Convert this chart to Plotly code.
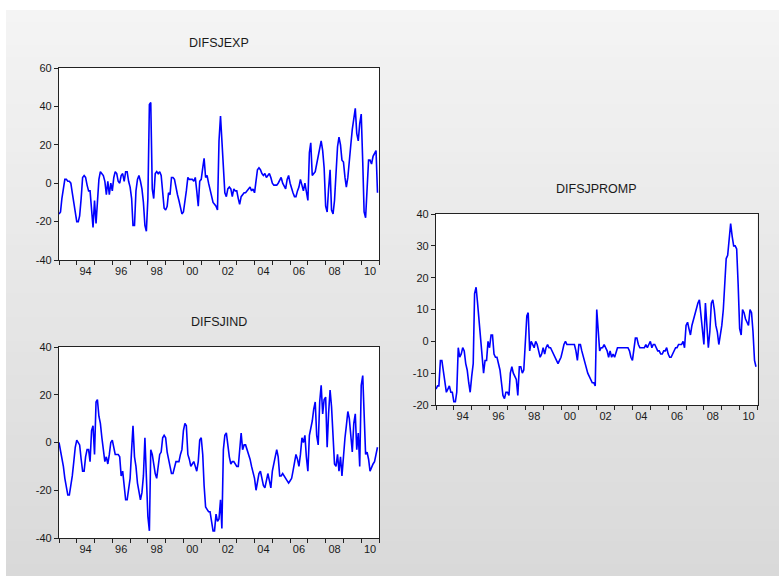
import pandas as pd
import plotly.graph_objects as go

# ---------------- data (monthly, 1993M01 - 2010M12) ----------------
dates = pd.date_range("1993-01-01", "2010-12-01", freq="MS")

difsjexp = [
    -16, -15, -8, -2, 2, 2, 1, 1, 0, -5, -11, -17,        # 1993
    -20, -20, -17, -8, 3, 4, 3, -1, -4, -4, -15, -23,     # 1994
    -9, -21, -10, 2, 6, 5, 4, 1, -6, 1, -6, 0,            # 1995
    -4, 3, 6, 5, 1, 0, 4, 5, 1, 6, 6, 1,                  # 1996
    -2, -8, -22, -22, -4, 2, 4, 1, -3, -10, -22, -25,     # 1997
    -8, 41, 42, -3, -8, 5, 6, 5, 6, 4, -5, -13,           # 1998
    -14, -12, -5, -6, 3, 3, 2, -3, -6, -9, -13, -16,      # 1999
    -15, -10, -4, 3, 2, 2, 2, 1, 3, -4, -12, 1,           # 2000
    2, 8, 13, 3, 4, 0, -3, -6, -10, -11, -12, -14,        # 2001
    22, 35, 22, 8, -5, -7, -3, -2, -3, -7, -3, -4,        # 2002
    -4, -8, -11, -7, -6, -5, -5, -4, -3, -2, -4, -3,      # 2003
    -5, 1, 7, 8, 7, 5, 4, 5, 3, 4, 5, 3,                  # 2004
    0, -1, -1, -1, 0, 2, 3, 0, -2, -3, 2, 4,              # 2005
    0, -3, -5, -7, -7, -4, -2, 2, -1, -4, 0, -5,          # 2006
    -9, 16, 21, 4, 5, 6, 10, 14, 20, 22, 17, 8,           # 2007
    -12, -15, -3, 7, -14, -16, -9, 5, 19, 24, 20, 12,     # 2008
    11, 3, -2, 3, 10, 20, 28, 35, 39, 26, 22, 31,         # 2009
    36, 11, -15, -18, -2, 12, 12, 10, 14, 16, 17, -5,     # 2010
]

difsjind = [
    0, -3, -7, -10, -15, -18, -22, -22, -18, -14, -8, -2,      # 1993
    1, 0, -1, -7, -12, -12, -6, -3, -3, -8, 5, 7,              # 1994
    -5, 17, 18, 11, 8, 2, -3, -8, -6, -9, -5, 0,               # 1995
    1, -3, -5, -5, -5, -6, -14, -12, -17, -24, -24, -20,       # 1996
    -15, -3, 7, -6, -10, -17, -21, -24, -21, -14, 2, -12,      # 1997
    -31, -37, -3, -5, -9, -13, -15, -11, -5, -4, 2, 3,         # 1998
    2, -4, -7, -9, -13, -13, -10, -8, -8, -8, -5, -3,          # 1999
    5, 8, 7, -5, -7, -10, -9, -8, -10, -12, -8, 1,             # 2000
    2, -5, -18, -27, -28, -29, -29, -33, -37, -37, -30, -33,   # 2001
    -32, -24, -36, -3, 3, 4, -2, -6, -9, -8, -8, -9,           # 2002
    -10, -10, -2, 4, -3, -1, -1, -3, -5, -7, -10, -13,         # 2003
    -15, -20, -17, -13, -12, -15, -18, -19, -16, -13, -16, -19,  # 2004
    -12, -8, -6, -3, -6, -14, -14, -13, -14, -15, -16, -17,    # 2005
    -16, -15, -12, -8, -5, -7, -10, -5, 2, 0, 3, -6,           # 2006
    -12, 3, 6, 9, 14, 17, 3, -1, 17, 24, 12, 18,               # 2007
    19, -2, 12, 22, 15, 5, -9, -10, -5, -12, -6, -14,          # 2008
    -5, 2, 7, 13, 10, 3, -4, 8, 12, -3, 4, -10,                # 2009
    24, 28, 12, -5, -4, -7, -12, -10, -9, -8, -5, -2,          # 2010
]

difsjpromp = [
    -15, -14, -14, -6, -6, -10, -13, -16, -15, -14, -16, -16,  # 1993
    -19, -19, -16, -2, -5, -4, -2, -3, -7, -9, -13, -16,       # 1994
    -11, -7, 15, 17, 12, 6, 0, -6, -10, -6, -6, 0,             # 1995
    -2, 2, 2, -4, -5, -5, -7, -9, -13, -17, -18, -16,          # 1996
    -16, -17, -10, -8, -10, -11, -12, -17, -8, -8, -10, -9,    # 1997
    0, 8, 9, -3, 0, -1, -2, 0, -1, -3, -5, -4,                 # 1998
    -2, -4, -2, -1, -2, -2, -3, -4, -5, -6, -7, -6,            # 1999
    -5, -3, -1, 0, -1, -1, -1, -1, -1, -1, -3, -6,            # 2000
    -1, -1, -3, -5, -7, -8, -10, -11, -12, -13, -13, -14,      # 2001
    10, 2, -3, -2, -2, -1, -2, -3, -5, -3, -5, -4,             # 2002
    -5, -3, -2, -2, -2, -2, -2, -2, -2, -2, -3, -5,            # 2003
    -6, -2, 1, 1, -1, -2, -2, -2, -2, -1, -2, -1,              # 2004
    0, -2, -1, -1, -2, -3, -3, -4, -4, -3, -3, -2,             # 2005
    -4, -5, -5, -4, -3, -2, -2, -1, -1, -1, 0, -2,             # 2006
    5, 6, 4, 2, 5, 7, 8, 10, 12, 13, 8, 3,                     # 2007
    -1, 12, 5, -2, 3, 12, 13, 10, 5, 3, -1, 2,                 # 2008
    5, 10, 19, 26, 27, 33, 37, 33, 30, 30, 29, 18,             # 2009
    4, 2, 10, 9, 7, 6, 5, 10, 9, 3, -6, -8,                    # 2010
]

x_label_pos = ["1994-07-01", "1996-07-01", "1998-07-01", "2000-07-01", "2002-07-01",
               "2004-07-01", "2006-07-01", "2008-07-01", "2010-07-01"]
x_labels = ["94", "96", "98", "00", "02", "04", "06", "08", "10"]

y1_ticks = [-40, -20, 0, 20, 40, 60]
y2_ticks = [-40, -20, 0, 20, 40]
y3_ticks = [-20, -10, 0, 10, 20, 30, 40]

titles = ["DIFSJEXP", "DIFSJIND", "DIFSJPROMP"]

# ---------------- figure ----------------
W, H = 779, 576
FONT = "Liberation Sans, Arial, sans-serif"
LINE_C = "#0000ff"
FRAME_C = "#222222"

fig = go.Figure()

series = [difsjexp, difsjind, difsjpromp]
for i, ys in enumerate(series):
    sfx = "" if i == 0 else str(i + 1)
    fig.add_trace(go.Scatter(x=dates, y=ys, mode="lines",
                             line=dict(color=LINE_C, width=1.6),
                             xaxis="x" + sfx, yaxis="y" + sfx,
                             showlegend=False, hoverinfo="skip"))

def px_dom_x(a, b):
    return [a / W, b / W]

def px_dom_y(top, bottom):
    return [1 - bottom / H, 1 - top / H]

doms = [
    (px_dom_x(59, 379), px_dom_y(68, 260)),
    (px_dom_x(59, 379), px_dom_y(347, 538)),
    (px_dom_x(436, 757.5), px_dom_y(214, 405)),
]
yranges = [[-40, 60], [-40, 40], [-20, 40]]
yticks = [y1_ticks, y2_ticks, y3_ticks]

tickfont = dict(family=FONT, size=11, color="#1a1a1a")

for i in range(3):
    sfx = "" if i == 0 else str(i + 1)
    fig.layout["xaxis" + sfx] = dict(
        domain=doms[i][0], anchor="y" + sfx, type="date",
        range=["1993-01-01", "2011-01-01"],
        tickmode="array", tickvals=x_label_pos, ticktext=x_labels,
        ticks="outside", ticklen=1, tickcolor="rgba(0,0,0,0)",
        minor=dict(ticks="outside", ticklen=4, tickcolor=FRAME_C, tickwidth=1,
                   dtick="M12", tick0="1993-01-01", showgrid=False),
        showgrid=False, zeroline=False, automargin=False,
        showline=True, linecolor=FRAME_C, linewidth=1.2, mirror=True,
        tickfont=tickfont, fixedrange=True,
    )
    fig.layout["yaxis" + sfx] = dict(
        domain=doms[i][1], anchor="x" + sfx,
        range=yranges[i], tickmode="array", tickvals=yticks[i],
        ticktext=[str(v) for v in yticks[i]],
        ticks="outside", ticklen=4, tickcolor=FRAME_C, tickwidth=1,
        showgrid=False, zeroline=False, automargin=False,
        showline=True, linecolor=FRAME_C, linewidth=1.2, mirror=True,
        tickfont=tickfont, fixedrange=True,
    )

# background: grey vertical gradient panel with a thin white band top/left
shapes = []
top_px, n = 10, 48
for k in range(n):
    y0 = top_px + (H - top_px) * k / n
    y1 = top_px + (H - top_px) * (k + 1) / n + 1
    g = round(244 - (244 - 217) * (k + 0.5) / n)
    shapes.append(dict(type="rect", xref="paper", yref="paper", layer="below",
                       x0=0, x1=1, y0=1 - y1 / H, y1=1 - y0 / H,
                       line=dict(width=0), fillcolor=f"rgb({g},{g},{g})"))
shapes.append(dict(type="rect", xref="paper", yref="paper", layer="below",
                   x0=0, x1=1, y0=1 - top_px / H, y1=1,
                   line=dict(width=0), fillcolor="white"))
shapes.append(dict(type="rect", xref="paper", yref="paper", layer="below",
                   x0=0, x1=6 / W, y0=0, y1=1,
                   line=dict(width=0), fillcolor="white"))
for i in range(3):
    sfx = "" if i == 0 else str(i + 1)
    shapes.append(dict(type="rect", xref=f"x{sfx} domain", yref=f"y{sfx} domain",
                       layer="below", x0=0, x1=1, y0=0, y1=1,
                       line=dict(width=0), fillcolor="white"))

annotations = []
for i, t in enumerate(titles):
    sfx = "" if i == 0 else str(i + 1)
    annotations.append(dict(text=t, xref=f"x{sfx} domain", yref=f"y{sfx} domain",
                            x=0.5, y=1, yshift=25, xanchor="center", yanchor="middle",
                            showarrow=False,
                            font=dict(family=FONT, size=12.5, color="#1a1a1a")))

fig.update_layout(width=W, height=H,
                  margin=dict(l=0, r=0, t=0, b=0, pad=0, autoexpand=False),
                  paper_bgcolor="#d9d9d9", plot_bgcolor="white",
                  shapes=shapes, annotations=annotations, showlegend=False)

fig.write_html("out.html")
